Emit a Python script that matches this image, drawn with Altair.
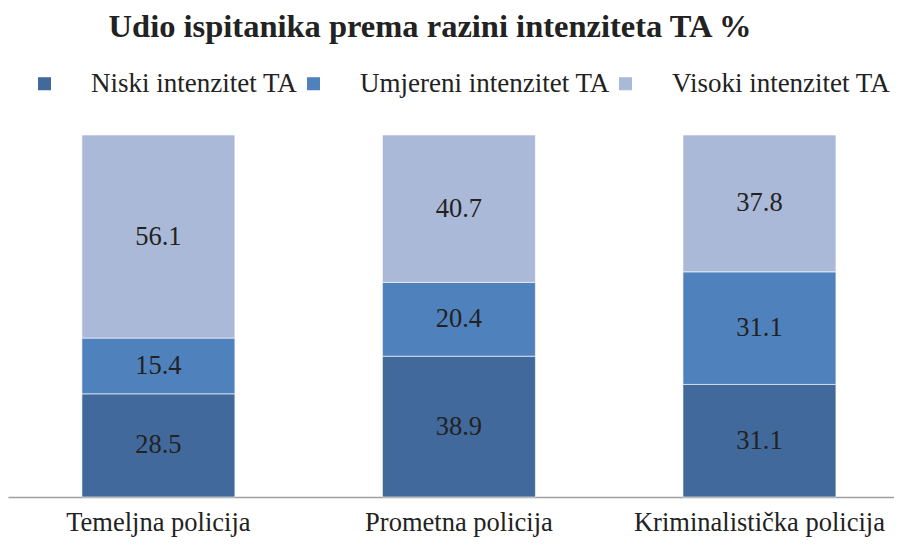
import altair as alt
import pandas as pd

categories = ["Temeljna policija", "Prometna policija", "Kriminalistička policija"]
levels = ["Niski intenzitet TA", "Umjereni intenzitet TA", "Visoki intenzitet TA"]
niski = [28.5, 38.9, 31.1]
umjereni = [15.4, 20.4, 31.1]
visoki = [56.1, 40.7, 37.8]
colors = ["#41699b", "#4f81bd", "#aab9d8"]

rows = []
for i, c in enumerate(categories):
    for j, (lv, vals) in enumerate(zip(levels, [niski, umjereni, visoki])):
        rows.append({"cat": c, "level": lv, "idx": j, "value": vals[i]})
df = pd.DataFrame(rows)

SERIF = "Liberation Serif"

base = alt.Chart(df).transform_stack(
    stack="value", groupby=["cat"], sort=[alt.SortField("idx", order="ascending")], as_=["y0", "y1"]
).transform_calculate(mid="(datum.y0 + datum.y1) / 2")

xenc = alt.X(
    "cat:N",
    sort=categories,
    title=None,
    scale=alt.Scale(paddingInner=0.491, paddingOuter=0.2196, align=0.56),
    axis=alt.Axis(
        labelAngle=0, ticks=False, domainColor="#a0a0a0", domainWidth=1.5,
        labelFont=SERIF, labelFontSize=26.5, labelColor="#222222", labelPadding=33,
        labelBaseline="alphabetic", labelLimit=0,
    ),
)

bars = base.mark_bar(stroke="white", strokeWidth=1, strokeOpacity=0.6).encode(
    x=xenc,
    y=alt.Y("y0:Q", scale=alt.Scale(domain=[0, 100]), axis=None),
    y2="y1:Q",
    color=alt.Color(
        "level:N",
        sort=levels,
        scale=alt.Scale(domain=levels, range=colors),
        legend=alt.Legend(
            title=None, orient="none", direction="horizontal", legendX=23, legendY=-65,
            symbolType="square", symbolSize=170, symbolStrokeWidth=0,
            labelFont=SERIF, labelFontSize=27, labelColor="#222222",
            labelOffset=33, columnPadding=2, labelLimit=0,
        ),
    ),
)

labels = base.mark_text(font=SERIF, fontSize=26.5, color="#222222", baseline="middle").encode(
    x=alt.X("cat:N", sort=categories),
    y=alt.Y("mid:Q"),
    text=alt.Text("value:Q", format=".1f"),
)

chart = alt.layer(bars, labels).properties(
    width=886,
    height=362,
    title=alt.TitleParams(
        "Udio ispitanika prema razini intenziteta TA %",
        font=SERIF, fontSize=32.5, fontWeight="bold", color="#222222",
        anchor="middle", frame="group", baseline="alphabetic", offset=1, dx=-21,
    ),
    autosize=alt.AutoSizeParams(type="none"),
    padding={"left": 0, "top": 127, "right": 0, "bottom": 40},
).configure_view(stroke=None)

chart.save("out.html", embed_options={"renderer": "svg", "actions": False})
